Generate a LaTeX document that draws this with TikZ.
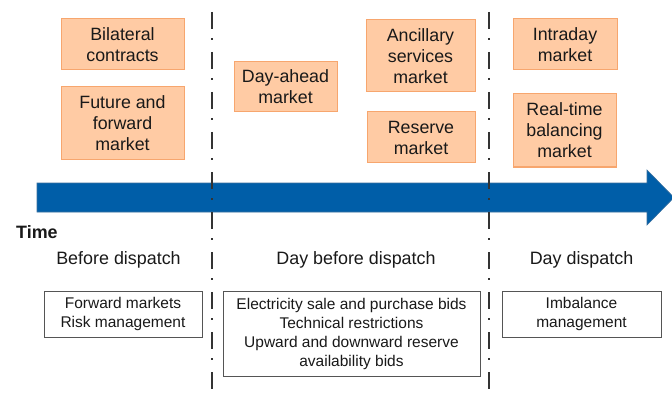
\documentclass[tikz,border=0pt]{standalone}
\usepackage{fontspec}
\setmainfont{Liberation Sans}
\definecolor{peach}{HTML}{FFCBA4}
\definecolor{peachline}{HTML}{F7A66E}
\definecolor{arrowblue}{HTML}{005EA8}
\definecolor{arrowedge}{HTML}{3A6F9E}
\definecolor{divider}{HTML}{333333}
\definecolor{boxline}{HTML}{555555}
\begin{document}
\begin{tikzpicture}[x=1pt,y=-1pt,
  market/.style={draw=peachline, fill=peach, line width=1pt, inner sep=0pt, align=center,
    font=\fontsize{17.8}{21}\selectfont, text=black!90},
  note/.style={draw=boxline, fill=white, line width=1pt, inner sep=0pt, align=center,
    font=\fontsize{15.5}{19}\selectfont, text=black!90},
  phase/.style={font=\fontsize{17.9}{21}\selectfont, text=black!90, inner sep=0pt},
  divline/.style={draw=divider, line width=1.6pt, dash pattern=on 17pt off 9pt on 2pt off 12pt}]
\useasboundingbox (0,0) rectangle (672,393);
% dividers
\coordinate (d1t) at (212,12); \coordinate (d1b) at (212,393);
\coordinate (d2t) at (489,12); \coordinate (d2b) at (489,393);
% arrow
\fill[arrowblue, draw=arrowedge, line width=0.6pt] (37,183) -- (647,183) -- (647,170) -- (674,197.5) -- (647,225) -- (647,212) -- (37,212) -- cycle;
\draw[divline] (d1t) -- (d1b);
\draw[divline] (d2t) -- (d2b);
% market boxes
\node[market, minimum width=123pt, minimum height=51pt] (bil) at (122.5,44.5) {Bilateral\\contracts};
\node[market, minimum width=123pt, minimum height=73pt] (fut) at (122.5,123.5) {Future and\\forward\\market};
\node[market, minimum width=103pt, minimum height=50pt] (dam) at (285.5,87) {Day-ahead\\market};
\node[market, minimum width=109pt, minimum height=72pt] (anc) at (420.5,56) {Ancillary\\services\\market};
\node[market, minimum width=108pt, minimum height=51pt] (res) at (421,137.5) {Reserve\\market};
\node[market, minimum width=104pt, minimum height=51pt] (intra) at (565,44.5) {Intraday\\market};
\node[market, minimum width=103pt, minimum height=73pt] (rt) at (564.5,130.5) {Real-time\\balancing\\market};
% labels
\node[phase, anchor=west, font=\fontsize{17.9}{21}\selectfont\bfseries] (time) at (16,232) {Time};
\node[phase] (bd) at (118.5,260) {Before dispatch};
\node[phase] (dbd) at (356,260) {Day before dispatch};
\node[phase] (dd) at (581.5,260) {Day dispatch};
% note boxes
\node[note, minimum width=158pt, minimum height=46pt] (n1) at (123,314) {Forward markets\\Risk management};
\node[note, minimum width=257pt, minimum height=85pt] (n2) at (351.5,333.5) {Electricity sale and purchase bids\\Technical restrictions\\Upward and downward reserve\\availability bids};
\node[note, minimum width=159pt, minimum height=46pt] (n3) at (581.5,314) {Imbalance\\management};
\end{tikzpicture}
\end{document}
